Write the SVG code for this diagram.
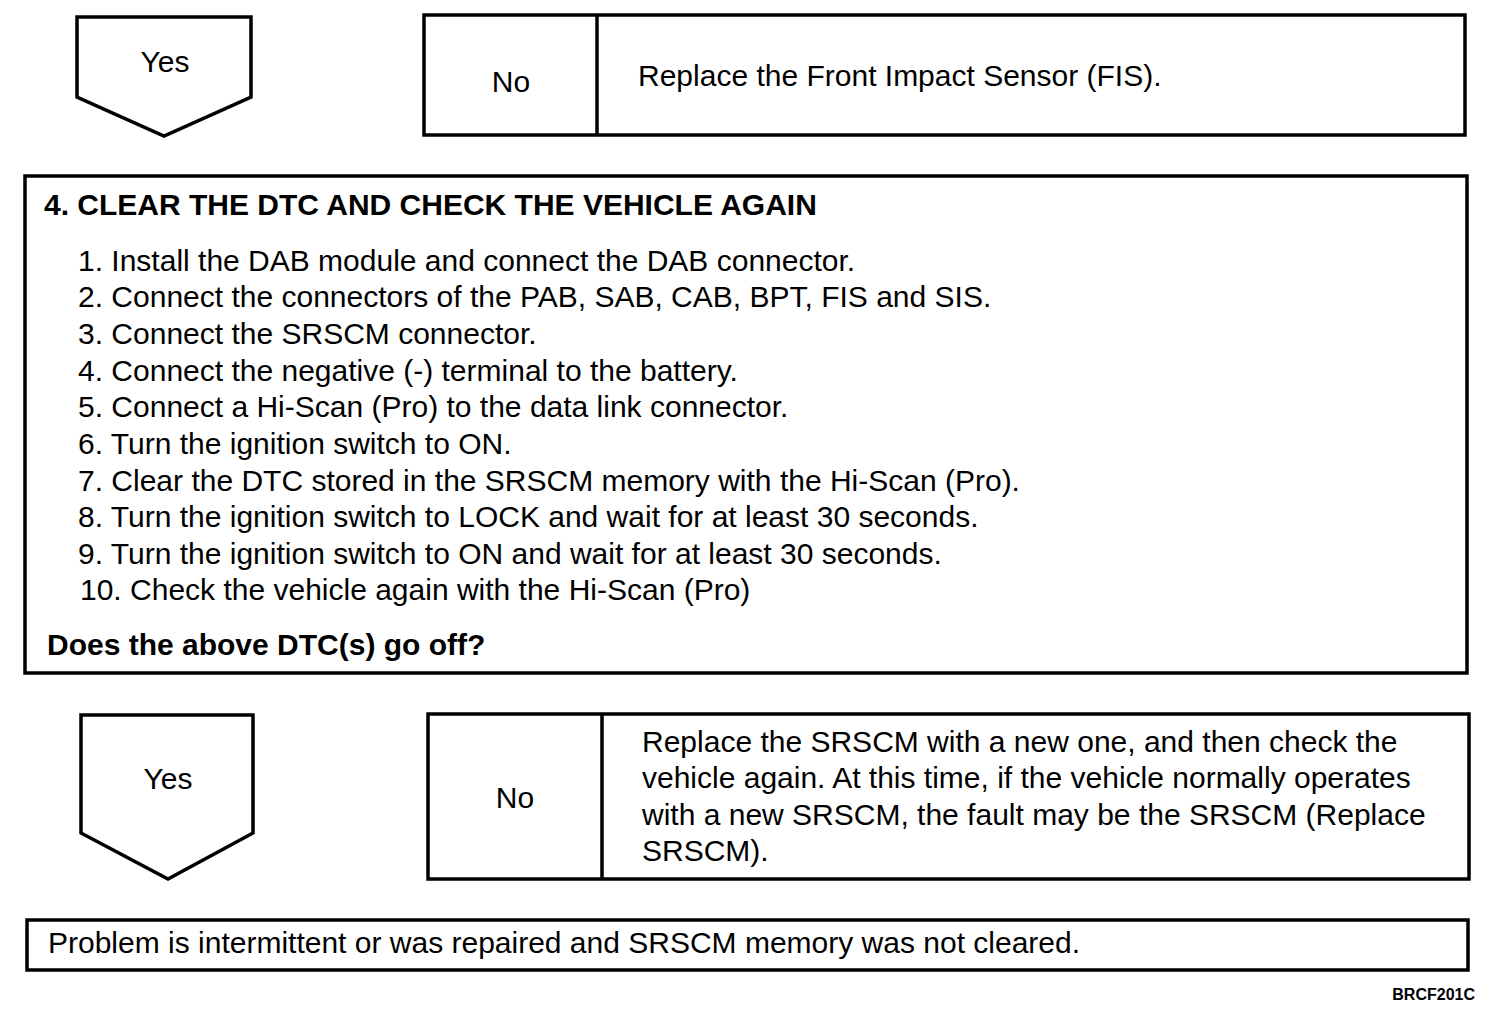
<svg xmlns="http://www.w3.org/2000/svg" width="1504" height="1020" viewBox="0 0 1504 1020">
<style>
.sh{fill:#fff;stroke:#000;stroke-width:3.5;stroke-linejoin:miter}
.t{font-family:"Liberation Sans",Arial,sans-serif;font-size:30px;fill:#000}
.c{text-anchor:middle}
.b{font-weight:bold}
</style>
<rect width="1504" height="1020" fill="#fff"/>
<g id="yes1">
<path class="sh" d="M77,17 H251 V97 L164,136 L77,97 Z"/>
<text class="t c" x="165" y="72">Yes</text>
</g>
<g id="no1">
<rect class="sh" x="424" y="15" width="1041" height="120"/>
<line class="sh" x1="597" y1="15" x2="597" y2="135"/>
<text class="t c" x="511" y="92">No</text>
<text class="t" x="638" y="86">Replace the Front Impact Sensor (FIS).</text>
</g>
<g id="step4">
<rect class="sh" x="25" y="176" width="1442" height="497"/>
<text class="t b" x="44" y="215">4. CLEAR THE DTC AND CHECK THE VEHICLE AGAIN</text>
<text class="t" x="78" y="271">1. Install the DAB module and connect the DAB connector.</text>
<text class="t" x="78" y="307">2. Connect the connectors of the PAB, SAB, CAB, BPT, FIS and SIS.</text>
<text class="t" x="78" y="344">3. Connect the SRSCM connector.</text>
<text class="t" x="78" y="381">4. Connect the negative (-) terminal to the battery.</text>
<text class="t" x="78" y="417">5. Connect a Hi-Scan (Pro) to the data link connector.</text>
<text class="t" x="78" y="454">6. Turn the ignition switch to ON.</text>
<text class="t" x="78" y="491">7. Clear the DTC stored in the SRSCM memory with the Hi-Scan (Pro).</text>
<text class="t" x="78" y="527">8. Turn the ignition switch to LOCK and wait for at least 30 seconds.</text>
<text class="t" x="78" y="564">9. Turn the ignition switch to ON and wait for at least 30 seconds.</text>
<text class="t" x="80" y="600">10. Check the vehicle again with the Hi-Scan (Pro)</text>
<text class="t b" x="47" y="655">Does the above DTC(s) go off?</text>
</g>
<g id="yes2">
<path class="sh" d="M81,715 H253 V833 L168,879 L81,833 Z"/>
<text class="t c" x="168" y="789">Yes</text>
</g>
<g id="no2">
<rect class="sh" x="428" y="714" width="1041" height="165"/>
<line class="sh" x1="602" y1="714" x2="602" y2="879"/>
<text class="t c" x="515" y="808">No</text>
<text class="t" x="642" y="752">Replace the SRSCM with a new one, and then check the</text>
<text class="t" x="642" y="788">vehicle again. At this time, if the vehicle normally operates</text>
<text class="t" x="642" y="825">with a new SRSCM, the fault may be the SRSCM (Replace</text>
<text class="t" x="642" y="861">SRSCM).</text>
</g>
<g id="result">
<rect class="sh" x="27" y="920" width="1441" height="50"/>
<text class="t" x="48" y="953">Problem is intermittent or was repaired and SRSCM memory was not cleared.</text>
</g>
<text class="t b" x="1475" y="1000" style="font-size:16px;text-anchor:end">BRCF201C</text>
<g id="connectors"/>
</svg>
